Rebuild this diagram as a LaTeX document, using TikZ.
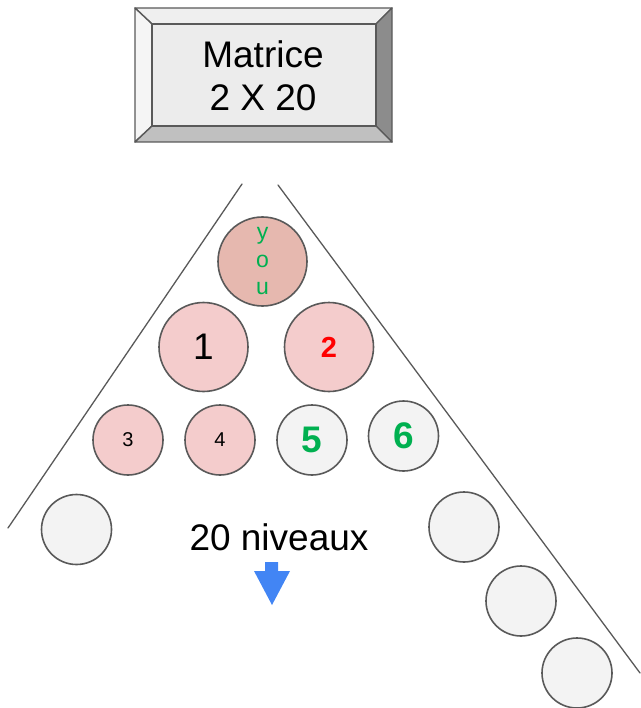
\documentclass[tikz,border=0pt]{standalone}
\usepackage{fontspec}
\setmainfont{Liberation Sans}
\definecolor{traitgris}{HTML}{595959}
\definecolor{roseclair}{HTML}{F4CCCC}
\definecolor{rosefonce}{HTML}{E6B8AF}
\definecolor{grisboule}{HTML}{F3F3F3}
\definecolor{vertnum}{HTML}{00B050}
\definecolor{bleufleche}{HTML}{4285F4}
\definecolor{biseauhaut}{HTML}{EFEFEF}
\definecolor{biseaugauche}{HTML}{F5F5F5}
\definecolor{biseaudroit}{HTML}{8C8C8C}
\definecolor{biseaubas}{HTML}{C0C0C0}
\definecolor{facebouton}{HTML}{ECECEC}
\begin{document}
\begin{tikzpicture}[line cap=round,line join=round,x=1pt,y=-1pt,
  grandeboule/.style={circle,draw=traitgris,line width=1.6pt,minimum size=89pt,inner sep=0pt},
  petiteboule/.style={circle,draw=traitgris,line width=1.6pt,minimum size=70pt,inner sep=0pt},
  biseau/.style={draw=traitgris,line width=1.4pt}]
\useasboundingbox (0,0) rectangle (640,708);
% bouton Matrice
\filldraw [biseau,fill=biseauhaut] (135,8) -- (392,8) -- (376,24) -- (152,24) -- cycle;
\filldraw [biseau,fill=biseaugauche] (135,8) -- (152,24) -- (152,126) -- (135,142) -- cycle;
\filldraw [biseau,fill=biseaudroit] (392,8) -- (392,142) -- (376,126) -- (376,24) -- cycle;
\filldraw [biseau,fill=biseaubas] (135,142) -- (152,126) -- (376,126) -- (392,142) -- cycle;
\filldraw [biseau,fill=facebouton] (152,24) rectangle (376,126);
\node[align=center,font=\fontsize{37}{43}\selectfont] (matrice) at (263,75.5) {Matrice\\2 X 20};
% bords du triangle
\draw [line width=1.3pt,color=traitgris] (242,184) -- (8,528);
\draw [line width=1.3pt,color=traitgris] (278,185) -- (640,673);
% boules
\node[grandeboule,fill=rosefonce,text=vertnum,align=center,font=\fontsize{23}{27.5}\selectfont] (you) at (262.5,261.5) {y\\o\\u};
\node[grandeboule,fill=roseclair,font=\fontsize{37}{43}\selectfont] (un) at (203.5,347) {1};
\node[grandeboule,fill=roseclair,text=red,font=\fontsize{29}{35}\selectfont\bfseries] (deux) at (329,347) {2};
\node[petiteboule,fill=roseclair,font=\fontsize{20}{24}\selectfont] (trois) at (128,440) {3};
\node[petiteboule,fill=roseclair,font=\fontsize{20}{24}\selectfont] (quatre) at (220,440) {4};
\node[petiteboule,fill=grisboule,text=vertnum,font=\fontsize{37}{43}\selectfont\bfseries] (cinq) at (312,440) {5};
\node[petiteboule,fill=grisboule,text=vertnum,font=\fontsize{37}{43}\selectfont\bfseries] (six) at (403.5,436) {6};
\node[petiteboule,fill=grisboule] (gauche) at (76.5,529.5) {};
\node[petiteboule,fill=grisboule] (droitea) at (464,527) {};
\node[petiteboule,fill=grisboule] (droiteb) at (521,601) {};
\node[petiteboule,fill=grisboule] (droitec) at (577,673) {};
% niveaux
\node[font=\fontsize{37}{43}\selectfont] (niveaux) at (279,537) {20 niveaux};
\fill [color=bleufleche] (265,562) -- (278,562) -- (278,571) -- (290,571) -- (272,605) -- (254,571) -- (265,571) -- cycle;
\end{tikzpicture}
\end{document}
